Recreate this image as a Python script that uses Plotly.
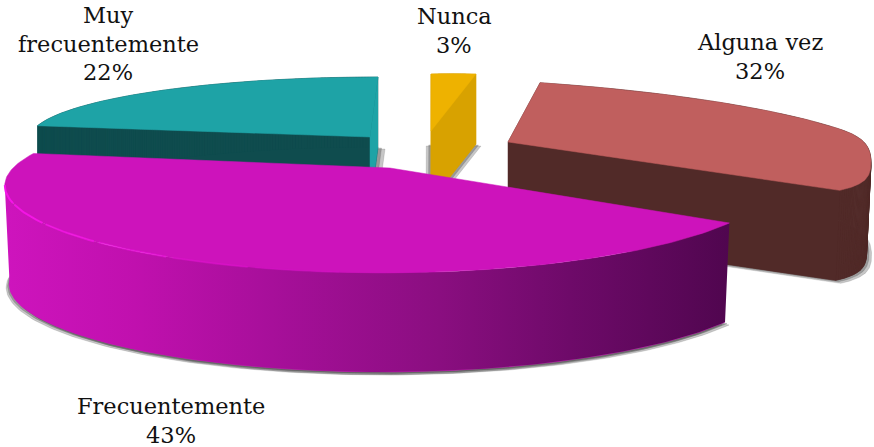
import numpy as np
import plotly.graph_objects as go

categories = ["Nunca", "Alguna vez", "Frecuentemente", "Muy frecuentemente"]
values = [3, 32, 43, 22]

label_lines = [["Nunca"], ["Alguna vez"], ["Frecuentemente"], ["Muy", "frecuentemente"]]
label_anchor = [(454, 16), (760, 42), (171, 406), (108, 15)]
LINE_STEP = 28.5

top_colors = ["#eeb200", "#c05f5e", "#cd13bb", "#1ea3a6"]
wall_colors = ["#d8a200", "#512a28", "#cd13bb", "#0f4c4e"]
gradient = [[0, "#ce14bd"], [0.18, "#c010ae"], [0.36, "#a80f9b"], [0.6, "#8a0e80"],
            [0.78, "#6e0a69"], [1, "#50064f"]]

# per-slice projection of the unit pie onto the page: apex, X axis, Y axis, perspective
apex = [(431, 131), (508, 142), (390, 168), (370, 137)]
axis_x = [(240, -5), (381, 14), (377, 0), (340, 0)]
axis_y = [(0, -57), (-40, -63), (6, -81), (8, -60)]
persp_x = [0, 0, 0.19, 0]
persp_y = [0, 0, 0.228, 0]
depth = [70, 90, 99, 70]
shadow_off = [[(-5, 2), (5, 2)], [(5, 3)], [(-3, 3), (4, 3)], [(7, 2)]]


def project(i, theta):
    X, Y = np.sin(theta), np.cos(theta)
    x = apex[i][0] + (axis_x[i][0] * X + axis_y[i][0] * Y) / (1 + persp_x[i] * Y)
    y = apex[i][1] + (axis_x[i][1] * X + axis_y[i][1] * Y) / (1 + persp_y[i] * Y)
    if i == 1:  # rounded nose of the slice
        over = np.maximum(0, x - 840)
        x = x - 0.0077 * over ** 2
    return x, y


def drop(i, x, y):
    if i == 2:
        return x + 0.012 * (367 - x), y + depth[i]
    if i == 1:
        return x - 0.012 * (x - 508), y + depth[i]
    return x, y + depth[i]


fracs = np.array(values, dtype=float) / sum(values)
edges = np.concatenate([[0], np.cumsum(fracs)]) * 2 * np.pi

fig = go.Figure()


def poly(x, y, color, **kw):
    fig.add_trace(go.Scatter(x=list(x), y=list(y), mode="lines", fill="toself", fillcolor=color,
                             line=dict(color=color, width=0.5), hoverinfo="skip",
                             showlegend=False, **kw))


faces = []
for i in range(4):
    th = np.linspace(edges[i], edges[i + 1], 160)
    ax, ay = project(i, th)
    x = np.concatenate([[apex[i][0]], ax, [apex[i][0]]])
    y = np.concatenate([[apex[i][1]], ay, [apex[i][1]]])
    faces.append((x, y, th, ax, ay))

# soft shadows
for i in [3, 0, 1, 2]:
    x, y, *_ = faces[i]
    bx, by = drop(i, x, y)
    for dx, dy in shadow_off[i]:
        poly(bx + dx, by + dy, "rgba(70,70,70,0.30)")
        poly(bx + dx * 0.5, by + dy * 0.5, "rgba(70,70,70,0.35)")

for i in [0, 3, 1, 2]:
    x, y, th, ax, ay = faces[i]
    bx, by = drop(i, x, y)
    if i == 2:
        left = int(np.argmin(ax))
        wx, wy = ax[:left + 1], ay[:left + 1]
        dx_, dy_ = drop(i, wx, wy)
        poly(bx, by, "#cd13bb")
        fig.add_trace(go.Scatter(
            x=list(np.concatenate([wx, dx_[::-1]])), y=list(np.concatenate([wy, dy_[::-1]])),
            mode="lines", fill="toself", line=dict(width=0),
            fillgradient=dict(type="horizontal", colorscale=gradient),
            hoverinfo="skip", showlegend=False))
    else:
        poly(bx, by, wall_colors[i])
        for k in range(len(x) - 1):
            poly([x[k], x[k + 1], bx[k + 1], bx[k]], [y[k], y[k + 1], by[k + 1], by[k]],
                 top_colors[3] if (i == 3 and k == len(x) - 2) else wall_colors[i])
    poly(x, y, top_colors[i])

# bright rim on the front-left of the large slice
_, _, th, ax, ay = faces[2]
left = int(np.argmin(ax))
pts = np.arange(left, 60, -1)
for seg, alpha in zip(np.array_split(pts, 6), [1, 0.9, 0.7, 0.45, 0.25, 0.1]):
    fig.add_trace(go.Scatter(x=list(ax[seg]), y=list(ay[seg]), mode="lines",
                             line=dict(color=f"rgba(246,20,232,{alpha})", width=2),
                             hoverinfo="skip", showlegend=False))

annotations = []
for i, lines in enumerate(label_lines):
    rows = lines + [f"{values[i]}%"]
    for r, text in enumerate(rows):
        annotations.append(dict(x=label_anchor[i][0], y=label_anchor[i][1] + r * LINE_STEP, text=text,
                                showarrow=False, xanchor="center", yanchor="middle",
                                font=dict(family="DejaVu Serif", size=22.5, color="#111111")))

fig.update_layout(
    width=874, height=447, margin=dict(l=0, r=0, t=0, b=0),
    paper_bgcolor="white", plot_bgcolor="white", showlegend=False,
    xaxis=dict(range=[0, 874], visible=False, fixedrange=True),
    yaxis=dict(range=[447, 0], visible=False, fixedrange=True),
    annotations=annotations,
)
fig.write_html("out.html", config=dict(displayModeBar=False),
               post_script="document.body.style.margin='0';document.body.style.overflow='hidden';")
